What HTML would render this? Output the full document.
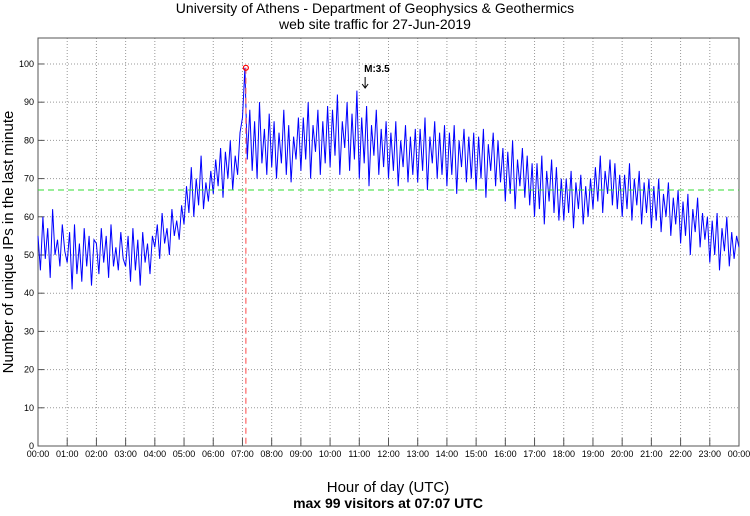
<!DOCTYPE html>
<html><head><meta charset="utf-8"><style>
body{margin:0;background:#fff;width:750px;height:511px;overflow:hidden;font-family:"Liberation Sans",sans-serif}
</style></head><body>
<svg id="chart" width="750" height="511" xmlns="http://www.w3.org/2000/svg" font-family="Liberation Sans, sans-serif">
<text x="375" y="13" text-anchor="middle" font-size="14">University of Athens - Department of Geophysics &amp; Geothermics</text>
<text x="375" y="29" text-anchor="middle" font-size="14">web site traffic for 27-Jun-2019</text>
<text transform="translate(13,242) rotate(-90)" text-anchor="middle" font-size="15">Number of unique IPs in the last minute</text>
<text x="388" y="492" text-anchor="middle" font-size="15">Hour of day (UTC)</text>
<text x="388" y="508" text-anchor="middle" font-size="14" font-weight="bold">max 99 visitors at 07:07 UTC</text>
<g id="grid"></g><g id="axes"></g><g id="series"></g><g id="marks"></g>
</svg>
<script>
const yTicks=[0,10,20,30,40,50,60,70,80,90,100];
const hourLabels=["00:00","01:00","02:00","03:00","04:00","05:00","06:00","07:00","08:00","09:00","10:00","11:00","12:00","13:00","14:00","15:00","16:00","17:00","18:00","19:00","20:00","21:00","22:00","23:00","00:00"];
const visitors=[
55,46,60,49,57,44,62,50,54,47,58,51,
48,56,41,58,45,53,43,57,47,55,42,54,
53,45,57,48,55,44,58,47,52,46,56,49,
47,55,43,57,46,54,42,56,48,53,45,55,
52,58,49,61,53,57,50,62,55,59,54,63,
58,68,61,73,60,70,63,76,62,69,64,72,
66,75,68,78,65,77,70,80,67,76,71,82,
86,99,75,88,72,85,70,90,74,83,71,87,
73,85,70,82,74,88,71,84,69,81,75,86,
72,86,75,90,70,84,77,88,71,85,74,89,
73,88,76,92,71,85,78,90,72,87,75,93,
70,86,74,89,68,84,76,88,71,83,73,85,
70,82,72,85,68,80,73,84,69,81,71,83,
69,83,72,86,67,81,74,85,70,82,71,84,
68,82,71,84,66,80,73,83,69,81,70,82,
67,81,70,83,65,79,72,82,68,80,69,78,
64,77,66,80,62,75,68,78,65,76,63,74,
60,74,62,76,58,72,64,75,61,73,59,70,
59,70,61,72,57,69,62,71,58,68,60,70,
62,73,64,76,61,72,66,75,63,74,62,71,
60,71,62,74,59,70,63,72,58,69,61,70,
57,68,59,70,56,66,60,69,55,65,58,67,
53,64,55,66,50,62,56,65,52,61,54,60,
48,59,50,61,46,57,51,60,47,56,49,55,52];
const stepMinutes=5;
const meanLevel=[67];
const peak=[{minute:427,value:99}];
const quake=[{minute:672,label:"M:3.5"}];

const L=38,R=739,T=38,B=446,YMAX=106.8;
const xs=m=>L+(m/1440)*(R-L);
const ys=v=>B-(v/YMAX)*(B-T);
const NS="http://www.w3.org/2000/svg";
function mk(tag,attrs,parent,text){const e=document.createElementNS(NS,tag);for(const k in attrs)e.setAttribute(k,attrs[k]);if(text!==undefined)e.textContent=text;document.getElementById(parent).appendChild(e);return e;}
mk('rect',{x:L,y:T,width:R-L,height:B-T,fill:'none',stroke:'#555','stroke-width':1},'axes');
yTicks.forEach(v=>{
 const y=ys(v);
 if(v>0){const g=mk('line',{x1:L,x2:R,y1:y,y2:y,stroke:'#999','stroke-dasharray':'1,2'},'grid');
 
 }
 const t=mk('line',{x1:L,x2:L+6,y1:y,y2:y,stroke:'#555'},'axes');
 
 
 const lb=mk('text',{x:L-4,y:y+3,'text-anchor':'end','font-size':9},'axes',v);
 
 
});
hourLabels.forEach((h,i)=>{
 const x=xs(i*60);
 if(i>0&&i<24){const g=mk('line',{x1:x,x2:x,y1:T,y2:B,stroke:'#999','stroke-dasharray':'1,2'},'grid');
 
 }
 const t=mk('line',{x1:x,x2:x,y1:B,y2:B-8,stroke:'#555'},'axes');
 
 
 const lb=mk('text',{x:x,y:B+11,'text-anchor':'middle','font-size':9},'axes',h);
 
 
});
const mean=mk('line',{x1:L,x2:R,y1:ys(meanLevel[0]),y2:ys(meanLevel[0]),stroke:'#3d3','stroke-dasharray':'6,4','stroke-width':1},'marks');


const pts=visitors.map((v,i)=>xs(i*stepMinutes).toFixed(1)+','+ys(v).toFixed(1)).join(' ');
const line=mk('polyline',{points:pts,fill:'none',stroke:'#0000ff','stroke-width':1},'series');


peak.forEach(p=>{
 const vl=mk('line',{x1:xs(p.minute),x2:xs(p.minute),y1:ys(p.value),y2:B,stroke:'#f66','stroke-dasharray':'6,4','stroke-width':1.2},'marks');
 
 
 const c=mk('circle',{cx:xs(p.minute),cy:ys(p.value),r:2.5,fill:'none',stroke:'#f00','stroke-width':1.2},'marks');
 
 
});
quake.forEach(q=>{
 const x=xs(q.minute);
 const a=mk('path',{d:`M${x} 77 L${x} 88 M${x-3} 84 L${x} 88 L${x+3} 84`,stroke:'#000',fill:'none','stroke-width':1},'marks');
 
 
 const t=mk('text',{x:x-1,y:72,'font-size':10,'font-weight':'bold'},'marks',q.label);
 
 
});
</script>
</body></html>
